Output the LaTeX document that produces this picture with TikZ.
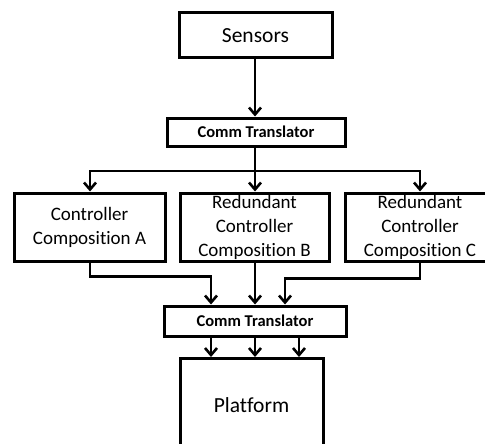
\documentclass[tikz,border=0pt]{standalone}
\usepackage{fontspec}
\setmainfont{Carlito}[Ligatures=NoCommon]
\usetikzlibrary{arrows.meta}
\begin{document}
\begin{tikzpicture}[x=1pt,y=-1pt,
  box/.style={draw,line width=3pt,rectangle,inner sep=0pt,align=center,font=\fontsize{19}{24}\selectfont},
  ctbox/.style={draw,line width=3pt,rectangle,inner sep=0pt,align=center,font=\fontsize{16.5}{18}\selectfont\bfseries},
  arr/.style={line width=2.6pt,-{Straight Barb[length=7pt,width=12pt,line width=2.6pt]}},
  ln/.style={line width=2.6pt}]
\useasboundingbox (0,0) rectangle (485,444);
\clip (0,0) rectangle (485,444);
\node[box,minimum width=153pt,minimum height=45pt,font=\fontsize{21.5}{26}\selectfont] (S) at (255.5,35.5) {Sensors};
\node[ctbox,minimum width=178pt,minimum height=28pt] (T1) at (256,132) {Comm Translator};
\node[box,minimum width=151pt,minimum height=68pt] (A) at (89.5,227) {Controller\\Composition A};
\node[box,minimum width=149pt,minimum height=68pt] (B) at (254.5,227) {Redundant\\Controller\\Composition B};
\node[box,minimum width=150pt,minimum height=68pt] (C) at (420,227) {Redundant\\Controller\\Composition C};
\node[ctbox,minimum width=182pt,minimum height=30pt] (T2) at (255,321) {Comm Translator};
\node[box,minimum width=143pt,minimum height=93pt,anchor=north,font=\fontsize{21.5}{26}\selectfont] (P) at (251.5,357) {Platform};
\coordinate (j) at (255,171);
\draw[arr] (S.south -| j) -- (T1.north -| j);
\draw[ln] (T1.south -| j) -- (j);
\draw[arr] (j) -| (A.north -| 90,0);
\draw[arr] (j) -- (B.north -| j);
\draw[arr] (j) -| (C.north);
\draw[arr] (A.south -| 90,0) -- ++(0,14) -| (T2.north -| 211,0);
\draw[arr] (B.south -| 255,0) -- (T2.north -| 255,0);
\draw[arr] (C.south) -- ++(0,16) -| (T2.north -| 285,0);
\draw[arr] (T2.south -| 211,0) -- (P.north -| 211,0);
\draw[arr] (T2.south -| 255,0) -- (P.north -| 255,0);
\draw[arr] (T2.south -| 299,0) -- (P.north -| 299,0);
\end{tikzpicture}
\end{document}
